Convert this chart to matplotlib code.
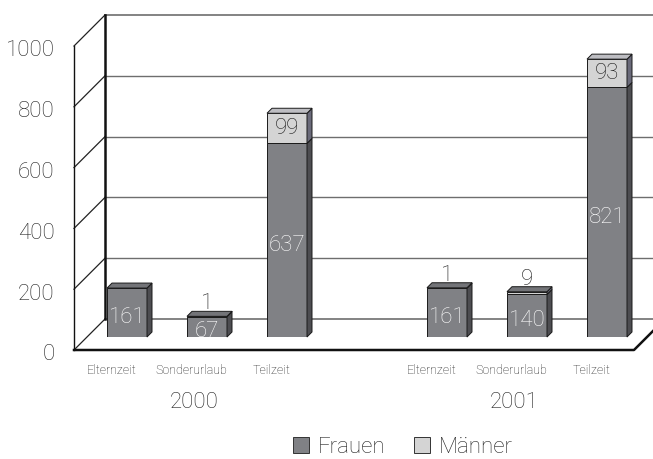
import matplotlib
matplotlib.use('Agg')
import matplotlib.pyplot as plt
from matplotlib.patches import Polygon, Patch

plt.rcParams['font.family'] = ['Roboto', 'DejaVu Sans']
plt.rcParams['font.weight'] = 'light'

# data
years = ['2000', '2001']
categories = ['Elternzeit', 'Sonderurlaub', 'Teilzeit']
frauen = [[161, 67, 637], [161, 140, 821]]
maenner = [[0, 1, 99], [1, 9, 93]]
y_ticks = [0, 200, 400, 600, 800, 1000]

# colours
f_front, f_top, f_side = '#808185', '#737478', '#4d4d51'
m_front, m_top, m_side = '#d4d4d4', '#bdbdc2', '#6a6a7a'
grid_col = '#6e6e6e'

fig = plt.figure(figsize=(6.53, 4.59), dpi=100)
# axes = the plane in which the bar fronts sit
ax = fig.add_axes([87 / 653, 122 / 459, 560 / 653, 304 / 459])
ax.set_xlim(-0.5, 6.5)
ax.set_ylim(0, 1000)
ax.axis('off')

# oblique depth: z in pixels, goes up and to the right
px_x = 7 / 560
px_y = 1000 / 304
FRONT, BACK, DEPTH = -13, 18, 5


def proj(x, y, z):
    return (x + z * px_x, y + z * px_y)


def line3(pts, **kw):
    xy = [proj(*p) for p in pts]
    ax.plot([p[0] for p in xy], [p[1] for p in xy], clip_on=False, **kw)


def face(pts, color):
    ax.add_patch(Polygon([proj(*p) for p in pts], closed=True, facecolor=color,
                         edgecolor='#1a1a1a', linewidth=0.7, clip_on=False, zorder=3))


x0, x1 = ax.get_xlim()

# back wall grid lines and left wall diagonals
for v in y_ticks:
    lw = 1.0 if v not in (0, 1000) else 1.2
    line3([(x0, v, BACK), (x1 + 1, v, BACK)], color=grid_col, lw=lw, zorder=1)
    line3([(x0, v, FRONT), (x0, v, BACK)], color='#222222', lw=0.9, zorder=1)
line3([(x0, 0, BACK), (x0, 1000, BACK)], color='#111111', lw=1.8, zorder=2)
line3([(x0, 0, FRONT), (x0, 1000, FRONT)], color='#111111', lw=1.0, zorder=2)

# floor outline
line3([(x0, 0, FRONT), (x1, 0, FRONT), (x1, 0, BACK + 10)], color='#111111', lw=1.8, zorder=2)

# bars
for g in range(len(years)):
    for i in range(len(categories)):
        x = g * 4 + i
        f = frauen[g][i]
        m = maenner[g][i]
        ax.bar(x, f, width=0.5, color=f_front, edgecolor='#1a1a1a', linewidth=0.7, zorder=3)
        ax.bar(x, m, bottom=f, width=0.5, color=m_front, edgecolor='#1a1a1a', linewidth=0.7, zorder=3)
        xr, xl = x + 0.25, x - 0.25
        face([(xr, 0, 0), (xr, f, 0), (xr, f, DEPTH), (xr, 0, DEPTH)], f_side)
        if m > 0:
            face([(xr, f, 0), (xr, f + m, 0), (xr, f + m, DEPTH), (xr, f, DEPTH)], m_side)
        top = f + m
        # tiny men segments do not show their own top colour
        tc = m_top if m > 20 else f_top
        face([(xl, top, 0), (xr, top, 0), (xr, top, DEPTH), (xl, top, DEPTH)], tc)

        ax.text(x, f / 2 - 16, str(f), ha='center', va='center', fontsize=16,
                color='white', zorder=5)
        if m > 20:
            ax.text(x, f + m / 2, str(m), ha='center', va='center', fontsize=16,
                    color='#1a1a1a', zorder=5)
        elif m > 0:
            ax.annotate(str(m), xy=(x, top), xytext=(0, 1.5), textcoords='offset points',
                        ha='center', va='bottom', fontsize=16, color='#1a1a1a', zorder=5)

        ax.annotate(categories[i], xy=proj(x, 0, FRONT), xytext=(-2, -14.5),
                    textcoords='offset points', ha='center', va='center',
                    fontsize=9, color='#222222', annotation_clip=False)
    ax.annotate(years[g], xy=proj(g * 4 + 1, 0, FRONT), xytext=(0, -38),
                textcoords='offset points', ha='center', va='center',
                fontsize=16, color='#222222', annotation_clip=False)

# y tick labels on the front edge
for v in y_ticks:
    ax.annotate(str(v), xy=proj(x0, v, FRONT), xytext=(-14, -3.5),
                textcoords='offset points', ha='right', va='center',
                fontsize=16, color='#222222', annotation_clip=False)

handles = [Patch(facecolor=f_front, edgecolor='#333333', linewidth=0.7),
           Patch(facecolor=m_front, edgecolor='#333333', linewidth=0.7)]
fig.legend(handles, ['Frauen', 'Männer'], loc='center', bbox_to_anchor=(0.617, 0.026),
           ncol=2, frameon=False, fontsize=16, handlelength=0.75, handleheight=0.75,
           handletextpad=0.4, columnspacing=1.25, labelcolor='#222222')

fig.savefig('out.png', dpi=100)
